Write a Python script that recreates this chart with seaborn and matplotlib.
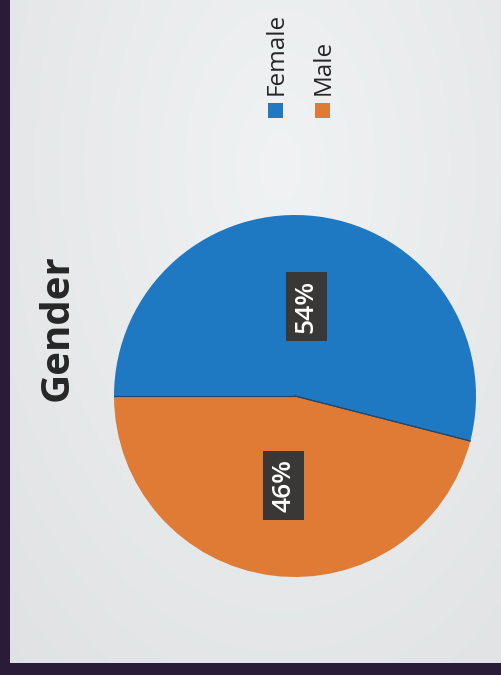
import numpy as np
import matplotlib
matplotlib.use("Agg")
import matplotlib.pyplot as plt
from matplotlib.patches import Rectangle
import seaborn as sns

# Data
categories = ["Female", "Male"]
shares = [54, 46]
title = "Gender"

sns.set_style("white")
plt.rcParams["font.family"] = ["Open Sans", "DejaVu Sans"]

palette = sns.color_palette(["#1f79c2", "#e07b36"])

W, H = 502, 675
fig = plt.figure(figsize=(W / 100, H / 100), dpi=100)
fig.patch.set_facecolor("#2a1b38")


def fx(px):
    return px / W


def fy(py):
    return 1 - py / H


# Light slide panel with a soft gradient
panel_l, panel_r, panel_t, panel_b = 10, 502, 0, 663
bg = fig.add_axes([fx(panel_l), fy(panel_b), fx(panel_r - panel_l), (panel_b - panel_t) / H])
yy, xx = np.mgrid[0:1:200j, 0:1:200j]
dist = np.sqrt(((xx - 0.55) / 0.9) ** 2 + ((yy - 0.25) / 1.1) ** 2)
shade = np.clip(0.95 - 0.07 * dist, 0, 1)
bg.imshow(np.dstack([shade * 0.99, shade, shade * 1.005]).clip(0, 1),
          extent=[0, 1, 1, 0], aspect="auto", interpolation="bilinear")
bg.set_axis_off()

# Pie (drawn rotated a quarter turn: starts at 9 o'clock, clockwise)
cx, cy, r = 295, 396, 181
ax = fig.add_axes([fx(cx - r), fy(cy + r), 2 * r / W, 2 * r / H])
wedges, _, autotexts = ax.pie(
    shares,
    colors=palette,
    startangle=180,
    counterclock=False,
    autopct="%.0f%%",
    pctdistance=0.5,
    wedgeprops=dict(edgecolor="none", linewidth=0),
)
# thin dark seams between the slices
for w in wedges:
    for ang in (w.theta1, w.theta2):
        a = np.deg2rad(ang)
        ax.plot([0, np.cos(a)], [0, np.sin(a)], color="#22466b", lw=0.8, zorder=3)
ax.set_xlim(-1, 1)
ax.set_ylim(-1, 1)
ax.set_aspect("equal")
for t in autotexts:
    t.set_rotation(90)
    t.set_color("white")
    t.set_fontsize(19)
    t.set_fontweight("semibold")
    t.set_ha("center")
    t.set_va("center")
    t.set_rotation_mode("anchor")
    t.set_zorder(5)
    t.set_bbox(dict(boxstyle="square,pad=0.3", fc="#3a3837", ec="none"))

# Title
fig.text(fx(57), fy(328), title, rotation=90, ha="center", va="center",
         fontsize=29, fontweight="bold", color="#262626")

# Legend drawn along the rotated layout
legend_x = [268, 315]
for cat, col, lx in zip(categories, palette, legend_x):
    fig.patches.append(Rectangle((fx(lx), fy(118)), 15 / W, 15 / H,
                                 transform=fig.transFigure, fc=col, ec="none"))
    fig.text(fx(lx + 8.5), fy(95), cat, rotation=90, ha="center", va="bottom",
             fontsize=17.5, color="#262626")

fig.savefig("out.png", dpi=100, facecolor=fig.get_facecolor())
